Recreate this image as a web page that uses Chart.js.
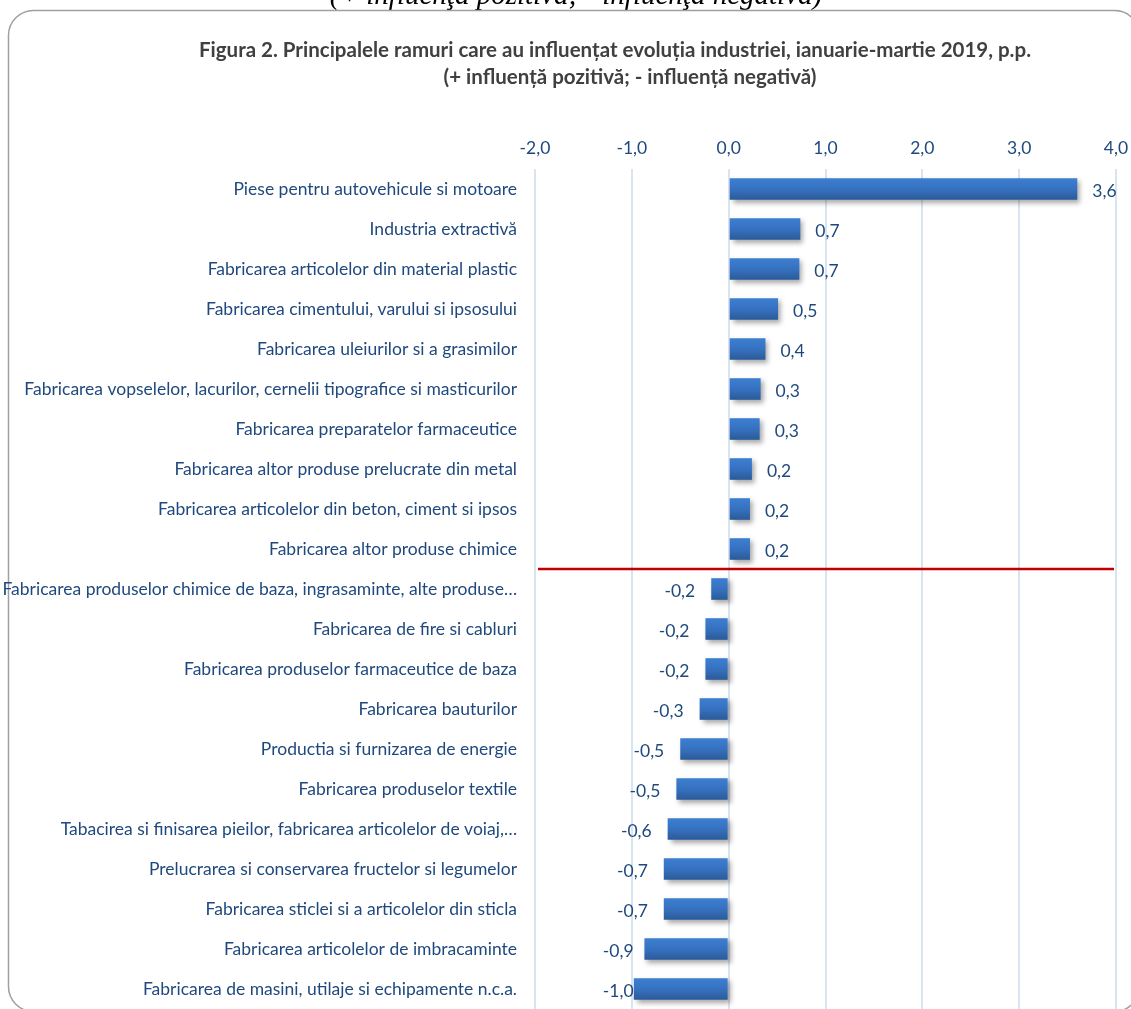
<!DOCTYPE html>
<html lang="ro">
<head>
<meta charset="utf-8">
<title>Figura 2</title>
<script src="https://cdn.jsdelivr.net/npm/chart.js@4.4.0/dist/chart.umd.min.js"></script>
<style>
  html, body { margin: 0; padding: 0; background: #fff; }
  #grafica { display: block; }
</style>
</head>
<body>
<canvas id="grafica" width="1131" height="1009"></canvas>
<script>
// datele graficului
const ramuri = [
    'Piese pentru autovehicule si motoare',
    'Industria extractivă',
    'Fabricarea articolelor din material plastic',
    'Fabricarea cimentului, varului si ipsosului',
    'Fabricarea uleiurilor si a grasimilor',
    'Fabricarea vopselelor, lacurilor, cernelii tipografice si masticurilor',
    'Fabricarea preparatelor farmaceutice',
    'Fabricarea altor produse prelucrate din metal',
    'Fabricarea articolelor din beton, ciment si ipsos',
    'Fabricarea altor produse chimice',
    'Fabricarea produselor chimice de baza, ingrasaminte, alte produse…',
    'Fabricarea de fire si cabluri',
    'Fabricarea produselor farmaceutice de baza',
    'Fabricarea bauturilor',
    'Productia si furnizarea de energie',
    'Fabricarea produselor textile',
    'Tabacirea si finisarea pieilor, fabricarea articolelor de voiaj,…',
    'Prelucrarea si conservarea fructelor si legumelor',
    'Fabricarea sticlei si a articolelor din sticla',
    'Fabricarea articolelor de imbracaminte',
    'Fabricarea de masini, utilaje si echipamente n.c.a.'
];
const valori = [3.6, 0.74, 0.73, 0.51, 0.38, 0.33, 0.32, 0.24, 0.22, 0.22,
    -0.18, -0.24, -0.24, -0.3, -0.5, -0.54, -0.63, -0.67, -0.67, -0.87, -0.98];
const limiteX = [-2, 4];
const pasX = 1;
const titlu = [
    'Figura 2. Principalele ramuri care au influențat evoluția industriei, ianuarie-martie 2019, p.p.',
    '(+ influență pozitivă; - influență negativă)'
];
const notaSus = '(+ influenţa pozitivă; - influenţa negativă)';

const albastru = '#1F497D';
const fontBaza = 'Lato, "Open Sans", sans-serif';
const marimeText = 17.5;
const fmt = v => Number(v).toFixed(1).replace('.', ',');

// cadru rotunjit + titlu
const cadru = {
    id: 'cadru',
    beforeDraw(chart) {
        const ctx = chart.ctx;
        ctx.save();
        ctx.fillStyle = '#fff';
        ctx.fillRect(0, 0, chart.width, chart.height);

        // textul taiat de sus
        ctx.font = 'italic 29px "Liberation Serif", serif';
        ctx.fillStyle = '#000';
        ctx.textAlign = 'center';
        ctx.textBaseline = 'alphabetic';
        ctx.fillText(notaSus, 576, 4);

        // marginea de jos si cea din dreapta raman in afara imaginii
        ctx.strokeStyle = '#A0A0A0';
        ctx.lineWidth = 1.5;
        ctx.beginPath();
        ctx.roundRect(8.5, 10.5, 1131, 1001, 25);
        ctx.stroke();

        ctx.fillStyle = '#404040';
        ctx.font = 'bold 20.5px ' + fontBaza;
        ctx.textBaseline = 'middle';
        ctx.fillText(titlu[0], 615, 50);
        ctx.fillText(titlu[1], 630, 77);
        ctx.restore();
    }
};

// umbra sub bare
const umbra = {
    id: 'umbra',
    beforeDatasetsDraw(chart) {
        const ctx = chart.ctx;
        ctx.save();
        ctx.shadowColor = 'rgba(0,0,0,0.35)';
        ctx.shadowBlur = 5;
        ctx.shadowOffsetX = 3;
        ctx.shadowOffsetY = 3;
    },
    afterDatasetsDraw(chart) {
        chart.ctx.restore();
    }
};

// linie rosie intre pozitive si negative
const linieRosie = {
    id: 'linieRosie',
    afterDatasetsDraw(chart) {
        const idx = valori.findIndex(v => v < 0);
        if (idx < 1) return;
        const y = chart.scales.y;
        const yy = (y.getPixelForValue(idx - 1) + y.getPixelForValue(idx)) / 2;
        const { left, right } = chart.chartArea;
        const ctx = chart.ctx;
        ctx.save();
        ctx.strokeStyle = '#C00000';
        ctx.lineWidth = 2.5;
        ctx.beginPath();
        ctx.moveTo(left + 3, yy);
        ctx.lineTo(right - 2, yy);
        ctx.stroke();
        ctx.restore();
    }
};

// etichete cu valori
const etichete = {
    id: 'etichete',
    afterDatasetsDraw(chart) {
        const ctx = chart.ctx;
        const meta = chart.getDatasetMeta(0);
        const minStanga = chart.scales.x.getPixelForValue(-1.3);
        ctx.save();
        ctx.font = marimeText + 'px ' + fontBaza;
        ctx.fillStyle = albastru;
        ctx.textBaseline = 'middle';
        ctx.textAlign = 'left';
        meta.data.forEach((bar, i) => {
            const txt = fmt(valori[i]);
            const w = ctx.measureText(txt).width;
            let x;
            if (valori[i] >= 0) {
                x = bar.x + 15;
            } else {
                x = Math.max(bar.x - 16 - w, minStanga);
            }
            ctx.fillText(txt, x, bar.y + 2);
        });
        ctx.restore();
    }
};

function degradeBara(context) {
    const chart = context.chart;
    const y = chart.scales.y;
    if (!y || !chart.chartArea) return '#3570BD';
    const yc = y.getPixelForValue(context.dataIndex);
    const g = chart.ctx.createLinearGradient(0, yc - 11, 0, yc + 11);
    g.addColorStop(0, '#3D7FD2');
    g.addColorStop(0.5, '#3671C0');
    g.addColorStop(1, '#2B5A98');
    return g;
}

new Chart(document.getElementById('grafica'), {
    type: 'bar',
    data: {
        labels: ramuri,
        datasets: [{
            data: valori,
            backgroundColor: degradeBara,
            borderWidth: 0,
            barPercentage: 0.54,
            categoryPercentage: 1
        }]
    },
    options: {
        indexAxis: 'y',
        responsive: false,
        animation: false,
        layout: { padding: { top: 120, right: 15, left: 0, bottom: 0 } },
        plugins: {
            legend: { display: false },
            tooltip: { enabled: false }
        },
        scales: {
            x: {
                position: 'top',
                min: limiteX[0],
                max: limiteX[1],
                ticks: {
                    stepSize: pasX,
                    color: albastru,
                    font: { family: fontBaza, size: marimeText },
                    padding: 10,
                    callback: v => fmt(v)
                },
                grid: { color: '#D9E4F1', lineWidth: 2, drawTicks: false },
                border: { display: false },
                afterFit: s => {
                    s.height = 49;
                    s.paddingLeft = 0;
                    s.paddingRight = 0;
                }
            },
            y: {
                ticks: {
                    color: albastru,
                    font: { family: fontBaza, size: marimeText },
                    padding: 18,
                    autoSkip: false
                },
                grid: { display: false, drawTicks: false },
                border: { display: false },
                afterFit: s => {
                    s.width = 535;
                    s.paddingTop = 0;
                    s.paddingBottom = 0;
                }
            }
        }
    },
    plugins: [cadru, umbra, etichete, linieRosie]
});
</script>
</body>
</html>
